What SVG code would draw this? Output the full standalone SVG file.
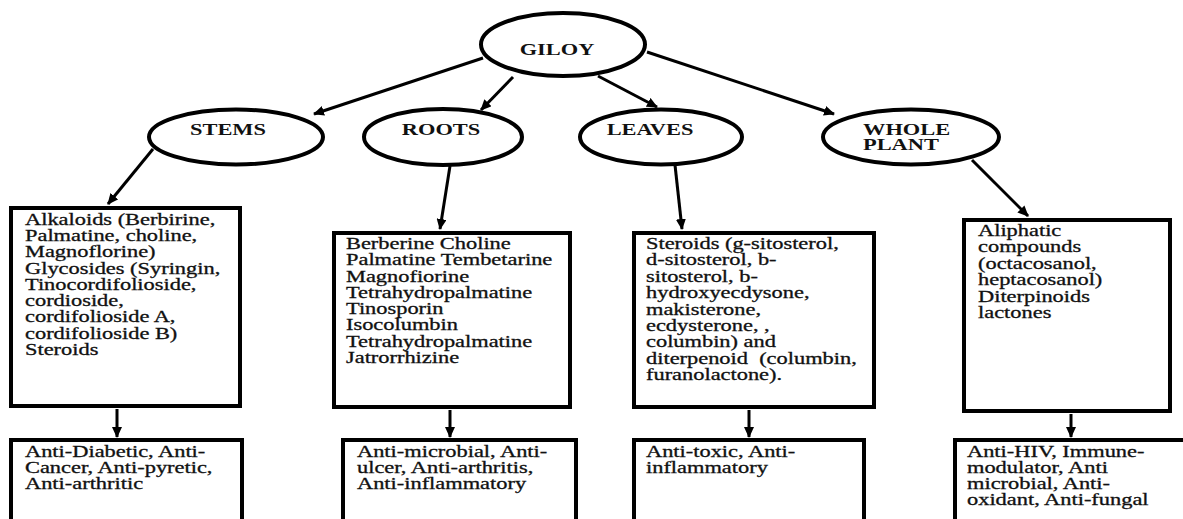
<svg xmlns="http://www.w3.org/2000/svg" width="1183" height="519" viewBox="0 0 1183 519">
<style>
.ell{fill:#fff;stroke:#000;stroke-width:4}
.box{fill:#fff;stroke:#000;stroke-width:4}
.ttl{font-family:"Liberation Serif","Times New Roman",serif;font-weight:bold;font-size:16px;fill:#111}
.txt{font-family:"Liberation Serif","Times New Roman",serif;font-size:16px;fill:#111;stroke:#111;stroke-width:0.3}
.con{stroke:#000;stroke-width:3;fill:none;marker-end:url(#ah)}
</style>
<defs>
<marker id="ah" markerUnits="userSpaceOnUse" markerWidth="11" markerHeight="10" refX="10" refY="5" orient="auto">
<path d="M0,0 L11,5 L0,10 z" fill="#000"/>
</marker>
</defs>
<rect width="1183" height="519" fill="#fff"/>
<g id="connectors">
<line class="con" x1="483" y1="58" x2="314" y2="114"/>
<line class="con" x1="513" y1="77" x2="481" y2="110"/>
<line class="con" x1="598" y1="76" x2="657" y2="107"/>
<line class="con" x1="647" y1="52" x2="834" y2="114"/>
<line class="con" x1="153" y1="149" x2="108" y2="204"/>
<line class="con" x1="450" y1="166" x2="440" y2="229"/>
<line class="con" x1="675" y1="165" x2="682" y2="229"/>
<line class="con" x1="972" y1="160" x2="1028" y2="216"/>
<line class="con" x1="117" y1="409" x2="117" y2="437"/>
<line class="con" x1="450" y1="410" x2="450" y2="437"/>
<line class="con" x1="749" y1="410" x2="749" y2="437"/>
<line class="con" x1="1071" y1="414" x2="1071" y2="437"/>
</g>
<g id="giloy">
<ellipse class="ell" cx="563" cy="44.5" rx="82" ry="31.5"/>
<text class="ttl" text-anchor="middle" transform="translate(557,55) scale(1.4,1)">GILOY</text>
</g>
<g id="stems">
<ellipse class="ell" cx="236" cy="137" rx="87" ry="27.5"/>
<text class="ttl" text-anchor="middle" transform="translate(228,135) scale(1.4,1)">STEMS</text>
</g>
<g id="roots">
<ellipse class="ell" cx="443" cy="137" rx="79" ry="28"/>
<text class="ttl" text-anchor="middle" transform="translate(441,135) scale(1.4,1)">ROOTS</text>
</g>
<g id="leaves">
<ellipse class="ell" cx="661" cy="137" rx="81" ry="27.5"/>
<text class="ttl" text-anchor="middle" transform="translate(650,135) scale(1.4,1)">LEAVES</text>
</g>
<g id="whole-plant">
<ellipse class="ell" cx="911" cy="137" rx="88" ry="27.5"/>
<g transform="translate(863,0) scale(1.4,1)">
<text class="ttl" x="0" y="135">WHOLE</text>
<text class="ttl" x="0" y="150">PLANT</text>
</g>
</g>
<g id="stems-compounds">
<rect class="box" x="11" y="208" width="229" height="198"/>
<g transform="translate(25,0) scale(1.4,1)">
<text class="txt" y="225"><tspan x="0">Alkaloids (Berbirine,</tspan><tspan x="0" dy="16.25">Palmatine, choline,</tspan><tspan x="0" dy="16.25">Magnoflorine)</tspan><tspan x="0" dy="16.25">Glycosides (Syringin,</tspan><tspan x="0" dy="16.25">Tinocordifolioside,</tspan><tspan x="0" dy="16.25">cordioside,</tspan><tspan x="0" dy="16.25">cordifolioside A,</tspan><tspan x="0" dy="16.25">cordifolioside B)</tspan><tspan x="0" dy="16.25">Steroids</tspan></text>
</g>
</g>
<g id="roots-compounds">
<rect class="box" x="334" y="233" width="236" height="174"/>
<g transform="translate(346,0) scale(1.4,1)">
<text class="txt" y="249"><tspan x="0">Berberine Choline</tspan><tspan x="0" dy="16.3">Palmatine Tembetarine</tspan><tspan x="0" dy="16.3">Magnofiorine</tspan><tspan x="0" dy="16.3">Tetrahydropalmatine</tspan><tspan x="0" dy="16.3">Tinosporin</tspan><tspan x="0" dy="16.3">Isocolumbin</tspan><tspan x="0" dy="16.3">Tetrahydropalmatine</tspan><tspan x="0" dy="16.3">Jatrorrhizine</tspan></text>
</g>
</g>
<g id="leaves-compounds">
<rect class="box" x="634" y="233" width="240" height="174"/>
<g transform="translate(646,0) scale(1.4,1)">
<text class="txt" y="249"><tspan x="0">Steroids (g-sitosterol,</tspan><tspan x="0" dy="16.4">d-sitosterol, b-</tspan><tspan x="0" dy="16.4">sitosterol, b-</tspan><tspan x="0" dy="16.4">hydroxyecdysone,</tspan><tspan x="0" dy="16.4">makisterone,</tspan><tspan x="0" dy="16.4">ecdysterone, ,</tspan><tspan x="0" dy="16.4">columbin) and</tspan><tspan x="0" dy="16.4" xml:space="preserve">diterpenoid  (columbin,</tspan><tspan x="0" dy="16.4">furanolactone).</tspan></text>
</g>
</g>
<g id="whole-compounds">
<rect class="box" x="964" y="220" width="206" height="191"/>
<g transform="translate(978,0) scale(1.4,1)">
<text class="txt" y="236"><tspan x="0">Aliphatic</tspan><tspan x="0" dy="16.4">compounds</tspan><tspan x="0" dy="16.4">(octacosanol,</tspan><tspan x="0" dy="16.4">heptacosanol)</tspan><tspan x="0" dy="16.4">Diterpinoids</tspan><tspan x="0" dy="16.4">lactones</tspan></text>
</g>
</g>
<g id="stems-activity">
<rect class="box" x="11" y="440" width="231" height="100"/>
<g transform="translate(25,0) scale(1.4,1)">
<text class="txt" y="457"><tspan x="0">Anti-Diabetic, Anti-</tspan><tspan x="0" dy="16">Cancer, Anti-pyretic,</tspan><tspan x="0" dy="16">Anti-arthritic</tspan></text>
</g>
</g>
<g id="roots-activity">
<rect class="box" x="343" y="440" width="233" height="100"/>
<g transform="translate(357,0) scale(1.4,1)">
<text class="txt" y="457"><tspan x="0">Anti-microbial, Anti-</tspan><tspan x="0" dy="16">ulcer, Anti-arthritis,</tspan><tspan x="0" dy="16">Anti-inflammatory</tspan></text>
</g>
</g>
<g id="leaves-activity">
<rect class="box" x="634" y="440" width="230" height="100"/>
<g transform="translate(646,0) scale(1.4,1)">
<text class="txt" y="457"><tspan x="0">Anti-toxic, Anti-</tspan><tspan x="0" dy="16">inflammatory</tspan></text>
</g>
</g>
<g id="whole-activity">
<rect class="box" x="955" y="440" width="240" height="100"/>
<g transform="translate(967,0) scale(1.4,1)">
<text class="txt" y="457"><tspan x="0">Anti-HIV, Immune-</tspan><tspan x="0" dy="16">modulator, Anti</tspan><tspan x="0" dy="16">microbial, Anti-</tspan><tspan x="0" dy="16">oxidant, Anti-fungal</tspan></text>
</g>
</g>
</svg>
